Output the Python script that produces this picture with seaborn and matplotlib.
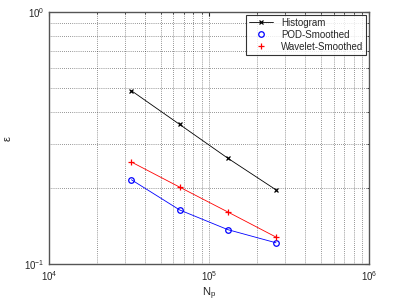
import numpy as np
import pandas as pd
import matplotlib
matplotlib.use("Agg")
import matplotlib.pyplot as plt
import matplotlib.ticker as mticker
import seaborn as sns

# particle counts and errors
n_particles = [32768, 65536, 131072, 262144]
err_histogram = [0.487, 0.358, 0.263, 0.197]
err_pod = [0.216, 0.164, 0.137, 0.1215]
err_wavelet = [0.254, 0.202, 0.161, 0.128]
series_names = ["Histogram", "POD-Smoothed", "Wavelet-Smoothed"]

df = pd.DataFrame({
    "Np": n_particles * 3,
    "eps": err_histogram + err_pod + err_wavelet,
    "method": [s for s in series_names for _ in n_particles],
})

sns.set_style("white")
plt.rcParams["font.family"] = ["Liberation Sans", "DejaVu Sans"]
plt.rcParams["mathtext.fontset"] = "dejavusans"

fig = plt.figure(figsize=(4.18, 3.05), dpi=100)
ax = fig.add_axes([0.117, 0.134, 0.766, 0.827])

palette = {"Histogram": "black", "POD-Smoothed": "blue", "Wavelet-Smoothed": "red"}
markers = {"Histogram": "x", "POD-Smoothed": "o", "Wavelet-Smoothed": "+"}
sizes = {"Histogram": 3, "POD-Smoothed": 4, "Wavelet-Smoothed": 5}

for name in series_names:
    sub = df[df["method"] == name]
    sns.lineplot(data=sub, x="Np", y="eps", ax=ax, color=palette[name], lw=0.6,
                 marker=markers[name], markersize=sizes[name],
                 markerfacecolor="none", markeredgecolor=palette[name],
                 markeredgewidth=0.9, label=name)

ax.set_xscale("log")
ax.set_yscale("log")
ax.set_xlim(1e4, 1e6)
ax.set_ylim(1e-1, 1e0)
ax.xaxis.set_minor_formatter(mticker.NullFormatter())
ax.yaxis.set_minor_formatter(mticker.NullFormatter())
ax.grid(True, which="both", linestyle=(0, (1, 2)), color="black", lw=0.5, alpha=0.8)
ax.tick_params(which="both", direction="in", labelsize=7, length=3, top=True, right=True)
ax.tick_params(which="minor", length=1.5)
for s in ax.spines.values():
    s.set_color("#555555")
    s.set_linewidth(1.0)
ax.set_xlabel("N$_\\mathregular{p}$", fontsize=8, labelpad=2)
ax.set_ylabel("\u03b5", fontsize=8, labelpad=8)

leg = ax.legend(loc="upper right", fontsize=7, frameon=True, fancybox=False,
                edgecolor="black", borderpad=0.3, labelspacing=0.2,
                handlelength=2.5, borderaxespad=0.3)
leg.get_frame().set_linewidth(0.8)
for h in leg.legend_handles[1:]:
    h.set_linestyle("none")

fig.savefig("out.png", dpi=100)
